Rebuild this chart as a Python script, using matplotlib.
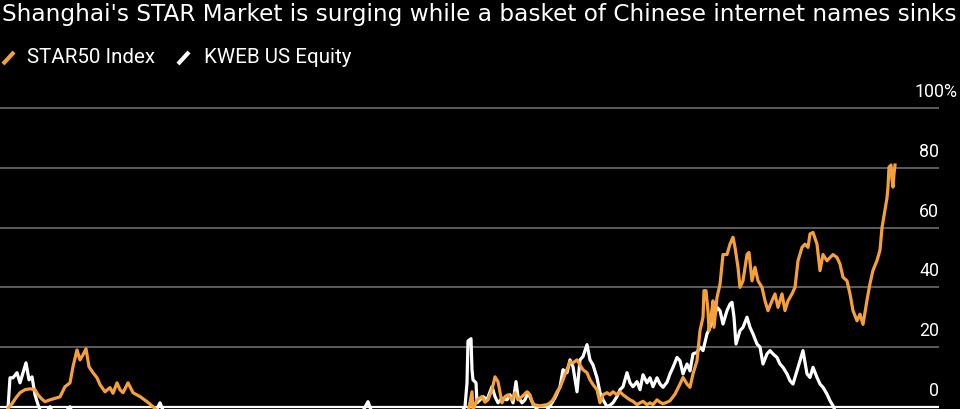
import matplotlib.pyplot as plt
from matplotlib.lines import Line2D

# trading-day index and % change
star_days = [8, 12, 16, 20, 25, 30, 35, 38, 42, 45, 50, 55, 60, 65, 70, 73, 77, 80, 83, 86,
             89, 93, 97, 100, 105, 110, 113, 117, 120, 123, 128, 133, 140, 147, 153, 160,
             180, 220, 260, 300, 340, 380, 420, 460, 468, 472, 473, 477, 482, 485, 488, 492,
             495, 498, 502, 505, 508, 512, 515, 518, 522, 527, 530, 533, 540, 547, 550, 553,
             557, 560, 563, 567, 570, 573, 577, 580, 583, 587, 590, 593, 597, 600, 603, 607,
             610, 613, 617, 620, 623, 627, 630, 633, 637, 640, 643, 647, 650, 653, 657, 660,
             663, 667, 670, 675, 680, 683, 687, 690, 693, 697, 700, 703, 704, 706, 708, 709,
             711, 713, 714, 717, 720, 723, 727, 730, 733, 735, 738, 740, 743, 747, 749, 752,
             755, 758, 762, 765, 768, 772, 775, 778, 782, 785, 788, 792, 795, 798, 802, 805,
             808, 810, 813, 817, 820, 823, 827, 830, 833, 837, 840, 843, 847, 850, 853, 857,
             860, 863, 867, 870, 873, 877, 880, 882, 885, 887, 888, 889, 891, 892, 893, 894, 895]
star_vals = [-0.5, 1, 3, 4.7, 5.7, 6, 5.7, 4, 2.5, 1.7, 2.3, 2.8, 3.3, 6.7, 8, 13.4, 19, 15.7, 17.4, 19.4,
             13.4, 11.4, 9.7, 7.4, 5, 6.4, 4.5, 8, 5.7, 4.7, 8, 4.7, 3.4, 1.7, 0, -2,
             -6, -10, -12, -15, -12, -10, -8, -5, -2, 5, -1, 2.3, 3.4, 1.5, 2.3, 5.7,
             10, 8.4, 1.3, 3.4, 4, 2.3, 4.7, 2.3, 3.4, 5, 4, 0.7, 0.3, 0.7, 1.3, 2.3,
             5, 6.4, 9, 12.4, 15.1, 14.7, 15.7, 14, 12.4, 11.4, 9, 7.4, 5.7, 1.3, 4, 4.7,
             4, 5, 4, 5, 4, 3, 2.3, 1.8, 0.7, 1.3, 1.8, 0.7, 1.3, 0.7, 2.3, 1.5,
             1, 1.5, 2, 4.2, 7.6, 9.8, 7.6, 6.5, 11, 15.4, 25.5, 30, 38.9, 38.9, 32, 25.5,
             30, 35.5, 26.6, 36.6, 41, 51, 51, 54.5, 56.8, 53.4, 46.7, 40, 42.2, 51, 51.7, 42.2,
             46.7, 42.2, 40, 35.5, 32.2, 35.5, 37.8, 33.3, 37.8, 32.2, 35.5, 37.8, 40, 48.9, 53.4, 54.5,
             53.4, 57.9, 58.4, 54.5, 45.6, 51, 48.9, 50, 51, 50, 47.8, 43.4, 42.2, 37.8, 32.2, 28.8,
             31, 27.6, 35.7, 41.3, 45.7, 49, 52.5, 60, 66, 70, 73.6, 80.3, 81, 76, 73.6, 78, 81]

kweb_days = [8, 10, 13, 17, 20, 23, 26, 29, 32, 35, 38, 42, 48, 50, 53, 62, 70, 73, 100, 140,
             155, 160, 164, 200, 260, 330, 362, 368, 372, 420, 455, 463, 465, 467, 468, 471,
             472, 473, 476, 477, 480, 483, 487, 492, 495, 498, 502, 507, 510, 513, 516, 518,
             522, 525, 528, 532, 537, 545, 552, 555, 560, 563, 567, 570, 573, 577, 580, 583,
             587, 590, 593, 597, 600, 603, 607, 610, 613, 617, 620, 623, 627, 630, 633, 637,
             640, 643, 647, 650, 653, 657, 660, 663, 667, 670, 673, 677, 680, 683, 687, 690,
             693, 697, 700, 703, 707, 710, 713, 717, 720, 723, 727, 730, 732, 734, 736, 740,
             743, 747, 750, 753, 757, 760, 763, 767, 770, 773, 777, 780, 783, 787, 790, 793,
             797, 800, 803, 807, 810, 813, 817, 820, 823, 827, 830, 833, 836, 850, 870, 895]
kweb_vals = [-0.5, 9.7, 9.7, 11.4, 8, 11.4, 14.7, 9, 10, 4, 0.7, -3, -1, 0, -2, -3, 0, -3, -8, -5,
             -2, 1.3, -2, -10, -12, -8, -2, 1.7, -2, -10, -5, -1, 0, 8, 22, 22.8,
             12.4, 9, 8, 1.3, 2.3, 3.4, 2.3, 6.7, 3.4, 1.3, 2.8, 2.3, 4, 1.3, 8.4, 3.4,
             1.3, 2.3, 4.7, 1.7, -1, -2, 1.3, 3, 6.7, 12.4, 11.4, 15.7, 13.4, 5, 15.7, 16.8,
             20.8, 15.7, 14, 9.7, 4.7, 2.3, 0, 0.5, 1.3, 3.4, 5.7, 6.7, 11.4, 8, 6.7, 8.4,
             5.7, 10.7, 8, 9.7, 6.7, 9.7, 7.6, 6.5, 8.2, 11, 13.2, 16.5, 15.4, 11, 14.3, 12,
             17.7, 18.2, 20, 18.8, 24.4, 26.6, 28.8, 33.3, 32.2, 27.7, 32.2, 34.4, 35, 30, 21, 25.5,
             26.6, 30, 26.6, 24.4, 21, 20, 14.3, 17.7, 18.8, 17.7, 16.5, 14.3, 13.2, 11, 8.7, 7.6,
             12, 15.4, 18.8, 11, 9.8, 13.2, 9.8, 7.6, 6.5, 4.2, 2, 0.3, -2, -5, -8, -10]

y_ticks = [0, 20, 40, 60, 80, 100]

ORANGE = '#f5a03a'
W, H = 960, 409


def fx(px):
    return px / W


def fy(py):
    return 1 - py / H


plt.rcParams['font.family'] = ['Roboto', 'DejaVu Sans']
fig = plt.figure(figsize=(9.6, 4.09), dpi=100, facecolor='black')

# axes: x in trading days, zero line sits ~2px above the bottom edge
ax = fig.add_axes([0, 0, fx(939), fy(102.4)])
ax.set_facecolor('black')
ax.set_xlim(0, 939)
ax.set_ylim(-0.77, 102)
for s in ax.spines.values():
    s.set_visible(False)
ax.set_xticks([])
ax.set_yticks([])

for t in y_ticks:
    ax.axhline(t, color='white' if t == 0 else '#5c5c5c', lw=1.6 if t == 0 else 1.4, zorder=1)
    if t == 100:
        # top label carries the unit and hangs past the gridlines
        ax.annotate('100%', xy=(1, t), xycoords=('axes fraction', 'data'),
                    xytext=(13.5, 11.5), textcoords='offset points',
                    ha='right', va='center', color='white', fontsize=12.8, annotation_clip=False)
    else:
        ax.annotate(str(t), xy=(1, t), xycoords=('axes fraction', 'data'),
                    xytext=(0, 11.5), textcoords='offset points',
                    ha='right', va='center', color='white', fontsize=12.8, annotation_clip=False)

ax.plot(kweb_days, kweb_vals, color='white', lw=2.3, zorder=3)
ax.plot(star_days, star_vals, color=ORANGE, lw=2.3, zorder=4)

title = fig.text(fx(2), fy(14), "Shanghai's STAR Market is surging while a basket of Chinese internet names sinks",
                 color='white', fontsize=16, va='center', ha='left', family='DejaVu Sans')
# stretch the title to the full width like the original
r = fig.canvas.get_renderer()
tw = title.get_window_extent(r).width
title.set_fontsize(16 * 954 / tw)

# legend with slash markers
fig.add_artist(Line2D([fx(3), fx(14)], [fy(64), fy(52)], color=ORANGE, lw=3, solid_capstyle='butt'))
fig.text(fx(27), fy(57.5), 'STAR50 Index', color='white', fontsize=14.8, va='center', ha='left')
fig.add_artist(Line2D([fx(178), fx(189)], [fy(64), fy(52)], color='white', lw=3, solid_capstyle='butt'))
fig.text(fx(204), fy(57.5), 'KWEB US Equity', color='white', fontsize=14.8, va='center', ha='left')

fig.savefig('out.png', dpi=100, facecolor='black')
